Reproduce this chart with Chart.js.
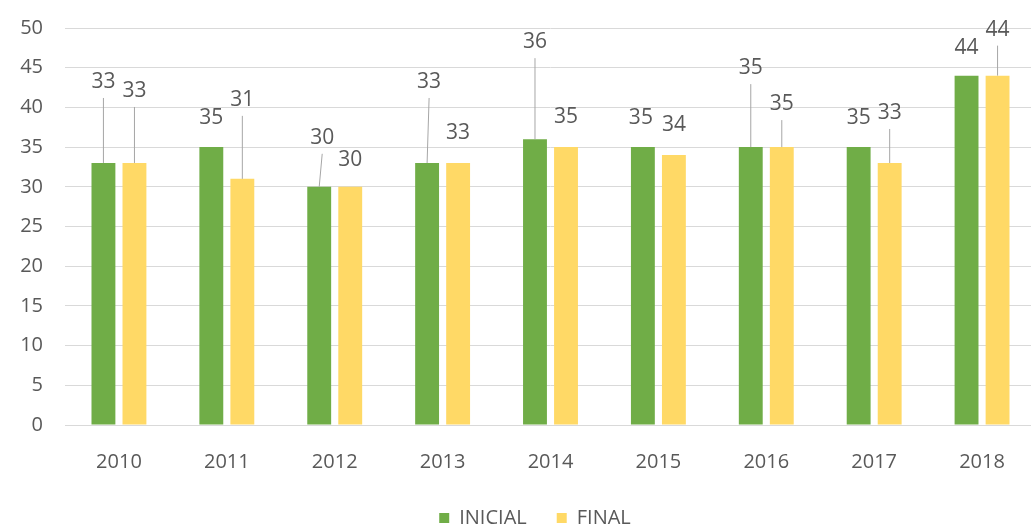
<!DOCTYPE html>
<html>
<head>
<meta charset="utf-8">
<script src="https://cdn.jsdelivr.net/npm/chart.js@4/dist/chart.umd.min.js"></script>
<style>
  html, body { margin: 0; padding: 0; background: #fff; overflow: hidden; }
  #wrap { width: 1036px; height: 531px; }
</style>
</head>
<body>
<div id="wrap"><canvas id="chart"></canvas></div>
<script>
// Data
const years = ['2010', '2011', '2012', '2013', '2014', '2015', '2016', '2017', '2018'];
const inicial = [33, 35, 30, 33, 36, 35, 35, 35, 44];
const final = [33, 31, 30, 33, 35, 34, 35, 33, 44];
const yTicks = [0, 5, 10, 15, 20, 25, 30, 35, 40, 45, 50];

// Label placement (pixels above the bar top, horizontal shift) - callout style
const liftInicial = [81, 29, 49, 81, 97, 29, 79, 29, 28];
const liftFinal = [72, 79, 27, 30, 30, 30, 43, 50, 46];
const shiftInicial = [0, 0, 3, 2, 0, -2, 0, 0, 0];
const shiftFinal = [0, 0, 0, 0, 0, 0, 0, 0, 0];

const textGrey = '#595959';

// draws the value labels with leader lines like the Excel callouts
const calloutLabels = {
    id: 'calloutLabels',
    afterDatasetsDraw(chart) {
        const ctx = chart.ctx;
        const lifts = [liftInicial, liftFinal];
        const shifts = [shiftInicial, shiftFinal];
        ctx.save();
        ctx.font = '21px "Open Sans", sans-serif';
        ctx.textAlign = 'center';
        ctx.textBaseline = 'middle';
        chart.data.datasets.forEach((ds, di) => {
            const meta = chart.getDatasetMeta(di);
            meta.data.forEach((bar, i) => {
                const lift = lifts[di][i];
                const lx = bar.x + shifts[di][i];
                const ly = bar.y - lift;
                if (lift > 36) {
                    ctx.strokeStyle = '#a6a6a6';
                    ctx.lineWidth = 1;
                    ctx.beginPath();
                    ctx.moveTo(lx, ly + 16);
                    ctx.lineTo(bar.x, bar.y);
                    ctx.stroke();
                }
                ctx.fillStyle = textGrey;
                ctx.fillText(ds.data[i], lx, ly);
            });
        });
        ctx.restore();
    }
};

// fixed legend height, and nudge it a bit like the original
const legendTweak = {
    id: 'legendTweak',
    beforeInit(chart) {
        const legend = chart.legend;
        const fit = legend.fit;
        legend.fit = function () {
            fit.call(this);
            this.height = 46;
        };
        const draw = legend.draw;
        legend.draw = function () {
            const ctx = this.ctx;
            ctx.save();
            ctx.translate(17, -7);
            draw.call(this);
            ctx.restore();
        };
    }
};

new Chart(document.getElementById('chart'), {
    type: 'bar',
    data: {
        labels: years,
        datasets: [
            { label: 'INICIAL', data: inicial, backgroundColor: '#70ad47' },
            { label: 'FINAL', data: final, backgroundColor: '#ffd966' }
        ]
    },
    options: {
        responsive: true,
        maintainAspectRatio: false,
        animation: false,
        layout: { padding: { top: 28, right: 0, left: 0, bottom: 0 } },
        datasets: {
            bar: { categoryPercentage: 0.575, barPercentage: 0.77 }
        },
        scales: {
            x: {
                grid: { display: false },
                border: { display: true, color: '#d9d9d9' },
                ticks: { color: textGrey, font: { family: 'Open Sans', size: 20 }, padding: 17 },
                afterFit(scale) { scale.height = 60; }
            },
            y: {
                min: 0,
                max: 50,
                afterBuildTicks(scale) { scale.ticks = yTicks.map(v => ({ value: v })); },
                grid: { color: '#d9d9d9', drawTicks: false },
                border: { display: false },
                ticks: { color: textGrey, font: { family: 'Open Sans', size: 20 }, padding: 22 },
                afterFit(scale) {
                    scale.width = 65;
                    scale.paddingTop = 0;
                    scale.paddingBottom = 0;
                }
            }
        },
        plugins: {
            legend: {
                position: 'bottom',
                labels: {
                    color: textGrey,
                    font: { family: 'Open Sans', size: 20 },
                    boxWidth: 10,
                    boxHeight: 10,
                    padding: 30
                }
            },
            tooltip: { enabled: false }
        }
    },
    plugins: [calloutLabels, legendTweak]
});
</script>
</body>
</html>
